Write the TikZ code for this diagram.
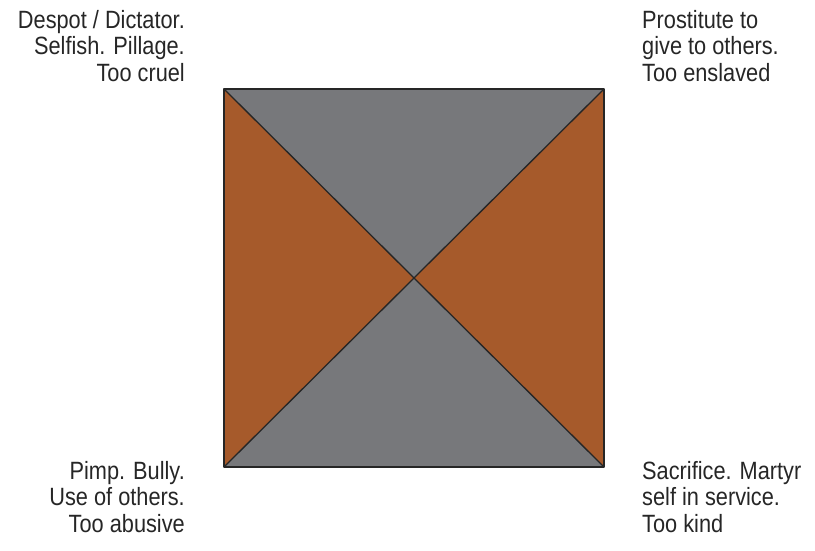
\documentclass[tikz,border=0pt]{standalone}
\usepackage{fontspec}
\setmainfont{Liberation Sans}[FakeStretch=0.87]
\usepackage{tikz}
\usetikzlibrary{positioning,calc}
\definecolor{tilegray}{HTML}{77787B}
\definecolor{tilerust}{HTML}{A65A2B}
\tikzset{
  tile/.style={draw=black!85, line width=1.3pt, line join=round},
  lbl/.style={font=\fontsize{25}{26.5}\selectfont, text=black!85, inner sep=0pt},
  lblL/.style={lbl, align=right},
  lblR/.style={lbl, align=left},
}

\begin{document}
\begin{tikzpicture}[x=1pt, y=-1pt]
  \useasboundingbox (0,0) rectangle (815,551);
  % square corners and centre
  \coordinate (tl) at (224,89);
  \coordinate (tr) at (604,89);
  \coordinate (br) at (604,467);
  \coordinate (bl) at (224,467);
  \coordinate (mid) at ($(tl)!0.5!(br)$);
  \fill[tilegray] (tl) -- (tr) -- (mid) -- cycle;
  \fill[tilegray] (bl) -- (br) -- (mid) -- cycle;
  \fill[tilerust] (tl) -- (bl) -- (mid) -- cycle;
  \fill[tilerust] (tr) -- (br) -- (mid) -- cycle;
  \draw[tile] (tl) rectangle (br);
  \draw[tile] (tl) -- (br) (tr) -- (bl);
  % labels
  \node[lblL, anchor=north east] (despot) at (185,10)
    {Despot / Dictator.\\ Selfish. Pillage.\\ Too cruel};
  \node[lblR, anchor=north west] (prost) at (642,10)
    {Prostitute to\\ give to others.\\ Too enslaved};
  \node[lblL, anchor=north east] (pimp) at (185,461)
    {Pimp. Bully.\\ Use of others.\\ Too abusive};
  \node[lblR, anchor=north west] (sacr) at (642,461)
    {Sacrifice. Martyr\\ self in service.\\ Too kind};
\end{tikzpicture}
\end{document}
